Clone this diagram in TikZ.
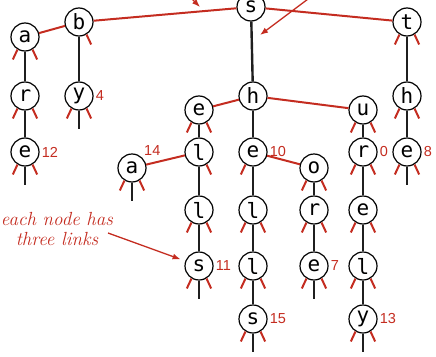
\documentclass[tikz,border=0pt]{standalone}
\usepackage{fontspec}
\newfontfamily\keyfont{DejaVu Sans Mono}
\newfontfamily\valfont{Liberation Sans}
\usetikzlibrary{arrows.meta}
\definecolor{linkred}{RGB}{196,44,32}

\begin{document}
\begin{tikzpicture}[
  x=1pt, y=-1pt,
  key/.style  = {circle, draw=black, line width=1.2pt, fill=white,
                 minimum size=28pt, inner sep=0pt,
                 font=\keyfont\fontsize{21}{21}\selectfont},
  val/.style  = {text=linkred, inner sep=1pt,
                 font=\valfont\fontsize{14.5}{15}\selectfont},
  mid/.style  = {draw=black!88, line width=2.4pt},
  side/.style = {draw=linkred, line width=2pt},
  ann/.style  = {draw=linkred, line width=1.3pt, -{Latex[length=8pt,width=6pt]}},
  label distance=1pt,
]
\useasboundingbox (0,0) rectangle (436,356);

% ---- root and its left / right subtries --------------------------------------
\node[key] (s)   at (251,7)   {s};
\node[key] (b)   at (79,22)   {b};
\node[key] (a)   at (25,37)   {a};
\node[key] (ar)  at (25,96)   {r};
\node[key, label={[val]east:12}] (are) at (25,152) {e};
\node[key, label={[val]east:4}]  (by)  at (79,96)  {y};
\node[key] (t)   at (407,22)  {t};
\node[key] (th)  at (407,96)  {h};
\node[key, label={[val]east:8}]  (the) at (407,152) {e};

% ---- middle subtrie of s ------------------------------------------------------
\node[key] (sh)    at (253,96)  {h};
\node[key] (se)    at (199,110) {e};
\node[key] (sel)   at (199,152) {l};
\node[key, label={[val]north east:14}] (sea) at (132,168) {a};
\node[key] (sell)  at (199,210) {l};
\node[key, label={[val]east:11}] (sells)  at (199,266) {s};
\node[key, label={[val]east:10}] (she)    at (253,152) {e};
\node[key] (shel)  at (253,210) {l};
\node[key] (shell) at (253,266) {l};
\node[key, label={[val]east:15}] (shells) at (253,319) {s};
\node[key] (sho)   at (314,168) {o};
\node[key] (shor)  at (314,210) {r};
\node[key, label={[val]east:7}]  (shore)  at (314,266) {e};
\node[key] (su)    at (363,110) {u};
\node[key, label={[val]east:0}]  (sur)    at (363,152) {r};
\node[key] (sure)  at (363,210) {e};
\node[key] (surel) at (363,266) {l};
\node[key, label={[val]east:13}] (surely) at (363,319) {y};

% ---- middle links -------------------------------------------------------------
\draw[mid] (a) -- (ar);   \draw[mid] (ar) -- (are);
\draw[mid] (b) -- (by);
\draw[mid] (t) -- (th);   \draw[mid] (th) -- (the);
\draw[mid] (s) -- (sh);
\draw[mid] (se) -- (sel); \draw[mid] (sel) -- (sell); \draw[mid] (sell) -- (sells);
\draw[mid] (sh) -- (she); \draw[mid] (she) -- (shel); \draw[mid] (shel) -- (shell);
\draw[mid] (shell) -- (shells);
\draw[mid] (sho) -- (shor); \draw[mid] (shor) -- (shore);
\draw[mid] (su) -- (sur); \draw[mid] (sur) -- (sure); \draw[mid] (sure) -- (surel);
\draw[mid] (surel) -- (surely);

% ---- left / right links -------------------------------------------------------
\draw[side] (s) -- (b);
\draw[side] (s) -- (t);
\draw[side] (b) -- (a);
\draw[side] (sh) -- (se);
\draw[side] (sh) -- (su);
\draw[side] (sel) -- (sea);
\draw[side] (she) -- (sho);

% ---- null links ---------------------------------------------------------------
\foreach \n in {a,ar,are,by,t,th,the,se,sea,sell,sells,she,shel,shell,shells,
                sho,shor,shore,su,sur,sure,surel,surely}
  \draw[side] (\n.-121) -- ++(-115:11pt);
\foreach \n in {b,a,ar,are,by,t,th,the,se,sel,sea,sell,sells,shel,shell,shells,
                sho,shor,shore,su,sur,sure,surel,surely}
  \draw[side] (\n.-59) -- ++(-65:11pt);
\foreach \n in {are,by,the,sea,sells,shells,shore,surely}
  \draw[mid] (\n.south) -- ++(0,18);

% ---- annotations --------------------------------------------------------------
\coordinate (tailL) at (186,-7);
\coordinate (tipL)  at (200,7);
\coordinate (tailR) at (316,-7);
\coordinate (tipR)  at (260,35);
\draw[ann] (tailL) -- (tipL);
\draw[ann] (tailR) -- (tipR);

\node[align=center, text=linkred, font=\itshape\fontsize{19}{20}\selectfont]
  (note) at (57,229) {each node has\\three links};
\coordinate (noteTail) at (108,233);
\draw[ann, shorten >=5pt] (noteTail) -- (sells);

\end{tikzpicture}
\end{document}
